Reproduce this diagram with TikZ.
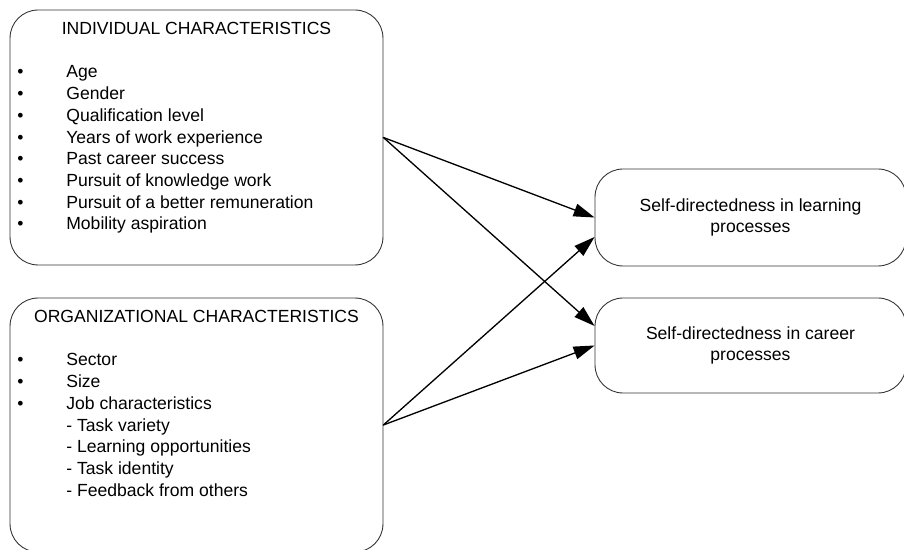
\documentclass[tikz,border=0pt]{standalone}
\usepackage{fontspec}
\setmainfont{Liberation Sans}
\usetikzlibrary{arrows.meta}
\newcommand{\blt}{\makebox[0.98cm][l]{\textbullet}}

\begin{document}
\begin{tikzpicture}[line cap=round,line join=round,>={Triangle[length=0.42cm,width=0.26cm]},x=0.02cm,y=-0.02cm,
	box/.style={draw=black!80,line width=0.5pt,rounded corners=0.56cm,inner sep=0pt,align=center,font=\fontsize{10}{12.3}\selectfont},
	txt/.style={inner sep=0pt,anchor=base west,font=\fontsize{10}{12.3}\selectfont}]
		\useasboundingbox (0,0) rectangle (904,550);
		\clip (0,0) rectangle (904,550);
		% boxes
		\node[box,minimum width=7.46cm,minimum height=5.1cm] (indiv) at (196.5,137.5) {};
		\node[box,minimum width=7.46cm,minimum height=5.08cm] (org) at (196.5,425) {};
		\node[box,minimum width=6.22cm,minimum height=1.94cm] (learn) at (750.5,217.5) {Self-directedness in learning\\processes};
		\node[box,minimum width=6.22cm,minimum height=1.9cm] (career) at (750.5,345.5) {Self-directedness in career\\processes};
		% individual characteristics
		\node[txt,anchor=base] (indivtitle) at (196.5,35) {INDIVIDUAL CHARACTERISTICS};
		\node[txt] (i1) at (17,78) {\blt Age};
		\node[txt] (i2) at (17,99.7) {\blt Gender};
		\node[txt] (i3) at (17,121.4) {\blt Qualification level};
		\node[txt] (i4) at (17,143.1) {\blt Years of work experience};
		\node[txt] (i5) at (17,164.8) {\blt Past career success};
		\node[txt] (i6) at (17,186.5) {\blt Pursuit of knowledge work};
		\node[txt] (i7) at (17,208.2) {\blt Pursuit of a better remuneration};
		\node[txt] (i8) at (17,229.9) {\blt Mobility aspiration};
		% organizational characteristics
		\node[txt,anchor=base] (orgtitle) at (196.5,323) {ORGANIZATIONAL CHARACTERISTICS};
		\node[txt] (o1) at (17,366) {\blt Sector};
		\node[txt] (o2) at (17,387.7) {\blt Size};
		\node[txt] (o3) at (17,409.4) {\blt Job characteristics};
		\node[txt] (o4) at (66,431.1) {- Task variety};
		\node[txt] (o5) at (66,452.8) {- Learning opportunities};
		\node[txt] (o6) at (66,474.5) {- Task identity};
		\node[txt] (o7) at (66,496.2) {- Feedback from others};
		% arrows
		\draw[->,line width=0.75pt] (indiv.east) -- (learn.west);
		\draw[->,line width=0.75pt] (indiv.east) -- ([yshift=0.39cm]career.west);
		\draw[->,line width=0.75pt] (org.east) -- ([yshift=-0.39cm]learn.west);
		\draw[->,line width=0.75pt] (org.east) -- (career.west);
\end{tikzpicture}
\end{document}
